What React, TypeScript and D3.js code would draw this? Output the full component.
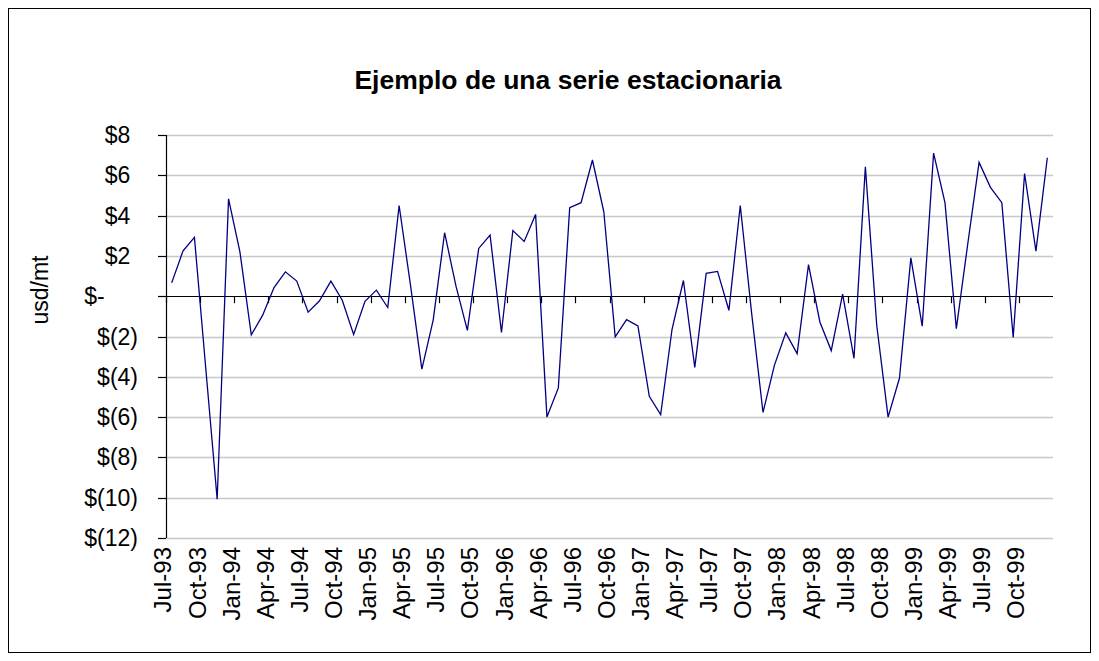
import React from "react";
import * as d3 from "d3";

// Monthly values, Jul-93 .. Dec-99 (usd/mt)
const values: number[] = [
  0.66, 2.25, 2.92, -3.6, -10.08, 4.83, 2.2, -1.92, -0.94, 0.43, 1.21, 0.75,
  -0.79, -0.23, 0.75, -0.2, -1.9, -0.25, 0.3, -0.56, 4.5, 0.55, -3.62, -1.17,
  3.15, 0.5, -1.7, 2.37, 3.03, -1.8, 3.26, 2.72, 4.06, -6.0, -4.55, 4.39,
  4.64, 6.76, 4.19, -2.02, -1.16, -1.47, -4.97, -5.88, -1.64, 0.78, -3.53, 1.13,
  1.23, -0.7, 4.5, -0.85, -5.77, -3.43, -1.82, -2.85, 1.57, -1.28, -2.7, 0.1,
  -3.08, 6.42, -1.44, -6.0, -4.06, 1.9, -1.49, 7.1, 4.64, -1.61, 2.58, 6.64,
  5.4, 4.64, -2.05, 6.09, 2.24, 6.87,
];

const tickLabels: string[] = [
  "Jul-93", "Oct-93", "Jan-94", "Apr-94", "Jul-94", "Oct-94", "Jan-95", "Apr-95",
  "Jul-95", "Oct-95", "Jan-96", "Apr-96", "Jul-96", "Oct-96", "Jan-97", "Apr-97",
  "Jul-97", "Oct-97", "Jan-98", "Apr-98", "Jul-98", "Oct-98", "Jan-99", "Apr-99",
  "Jul-99", "Oct-99",
];

const yTicks: number[] = [8, 6, 4, 2, 0, -2, -4, -6, -8, -10, -12];

const title = "Ejemplo de una serie estacionaria";
const yTitle = "usd/mt";

const W = 1083;
const H = 645;
const OFF = 8; // body margin
const FONT = "Arial, 'Liberation Sans', sans-serif";

export default function App() {
  const left = 166 - OFF;
  const right = 1053 - OFF;
  const top = 135 - OFF;
  const bottom = 538 - OFF;

  const x = d3.scaleLinear().domain([0, values.length]).range([left, right]);
  const y = d3.scaleLinear().domain([-12, 8]).range([bottom, top]);

  const line = d3
    .line<number>()
    .x((_, i) => x(i + 0.5))
    .y((d) => y(d));

  const fsY = 23;
  const fsX = 24;
  const labelRight = 138 - OFF;
  const fmt = (v: number) =>
    v > 0 ? `$${v}` : v === 0 ? "$-" : `$(${Math.abs(v)})`;
  const labelX = (v: number) =>
    v > 0
      ? labelRight - 0.333 * fsY
      : v === 0
      ? labelRight - 0.333 * fsY - 2 * 0.556 * fsY
      : labelRight;

  return (
    <svg width={W} height={H} style={{ display: "block" }} fontFamily={FONT}>
      <rect x={0.5} y={0.5} width={W - 1} height={H - 1} fill="#fff" stroke="#000" strokeWidth={1} />
      <text
        x={568 - OFF}
        y={89 - OFF}
        textAnchor="middle"
        fontSize={26.5}
        fontWeight="bold"
        fill="#000"
      >
        {title}
      </text>
      {/* gridlines */}
      {yTicks.map((t) => (
        <line
          key={"g" + t}
          x1={left}
          x2={right}
          y1={Math.round(y(t)) + 0.5}
          y2={Math.round(y(t)) + 0.5}
          stroke={t === 0 ? "#000" : "#c8c8c8"}
          strokeWidth={t === 0 ? 1.2 : 1.3}
        />
      ))}
      {/* y axis */}
      <line x1={left + 0.5} x2={left + 0.5} y1={top} y2={bottom} stroke="#000" strokeWidth={1.2} />
      {yTicks.map((t) => (
        <g key={"yt" + t}>
          <line
            x1={left - 8}
            x2={left}
            y1={Math.round(y(t)) + 0.5}
            y2={Math.round(y(t)) + 0.5}
            stroke="#000"
            strokeWidth={1.2}
          />
          <text
            x={labelX(t)}
            y={y(t)}
            dy="0.35em"
            textAnchor="end"
            fontSize={fsY}
            fill="#000"
          >
            {fmt(t)}
          </text>
        </g>
      ))}
      {/* x ticks on zero line */}
      {tickLabels.map((lab, k) => (
        <g key={lab}>
          <line
            x1={Math.round(x(k * 3)) + 0.5}
            x2={Math.round(x(k * 3)) + 0.5}
            y1={y(0)}
            y2={y(0) + 7}
            stroke="#000"
            strokeWidth={1.2}
          />
          <text
            transform={`translate(${x(k * 3) - 3},${547 - OFF}) rotate(-90)`}
            dy="0.35em"
            textAnchor="end"
            fontSize={fsX}
            fill="#000"
          >
            {lab}
          </text>
        </g>
      ))}
      <text
        transform={`translate(${40 - OFF},${290 - OFF}) rotate(-90)`}
        dy="0.35em"
        textAnchor="middle"
        fontSize={fsY}
        fill="#000"
      >
        {yTitle}
      </text>
      <path d={line(values) || ""} fill="none" stroke="#000080" strokeWidth={1.3} strokeLinejoin="miter" />
    </svg>
  );
}
